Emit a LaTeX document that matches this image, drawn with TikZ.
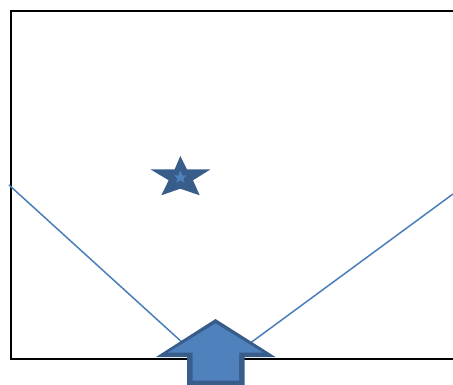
\documentclass[tikz,border=0pt]{standalone}
\usepackage{tikz}
\definecolor{fillblue}{HTML}{4F81BD}
\definecolor{edgeblue}{HTML}{385D8A}
\definecolor{lineblue}{HTML}{4A7EBB}
\tikzset{
  frame/.style={draw=black, line width=2pt},
  ray/.style={draw=lineblue, line width=1.5pt},
  outerpart/.style={fill=edgeblue},
  innerpart/.style={fill=fillblue},
}
\begin{document}
\begin{tikzpicture}[x=1pt,y=-1pt]
\useasboundingbox (0,0) rectangle (453,385);
% frame
\coordinate (fr1) at (453,11);
\coordinate (fr2) at (11,11);
\coordinate (fr3) at (11,359);
\coordinate (fr4) at (453,359);
\draw[frame] (fr1) -- (fr2) -- (fr3) -- (fr4);
% rays
\coordinate (l0) at (9,185);
\coordinate (l1) at (184,344);
\coordinate (r0) at (453,194);
\coordinate (r1) at (249,344);
\draw[ray] (l0) -- (l1);
\draw[ray] (r0) -- (r1);
% star
\fill[outerpart] (180.3,156) -- (187,169.3) -- (210.3,169.5) -- (193,180.3) -- (199.7,195.3) -- (180.3,188.7) -- (161.3,195.3) -- (168.7,180.3) -- (150.7,169.5) -- (174.7,169.3) -- cycle;
\fill[innerpart] (180.3,170.3) -- (182.2,175.3) -- (186.7,175.3) -- (183.3,178.5) -- (184.7,182.7) -- (180.3,180.3) -- (176.3,182.7) -- (177.5,178.5) -- (174,175.3) -- (178.5,175.3) -- cycle;
% arrow
\fill[outerpart] (215.5,319) -- (275.5,357) -- (244.5,357) -- (244.5,385) -- (187,385) -- (187,357) -- (156,357) -- cycle;
\fill[innerpart] (215.5,323.5) -- (263,352.5) -- (239,352.5) -- (239,380.5) -- (192.5,380.5) -- (192.5,352.5) -- (168,352.5) -- cycle;
\end{tikzpicture}
\end{document}
